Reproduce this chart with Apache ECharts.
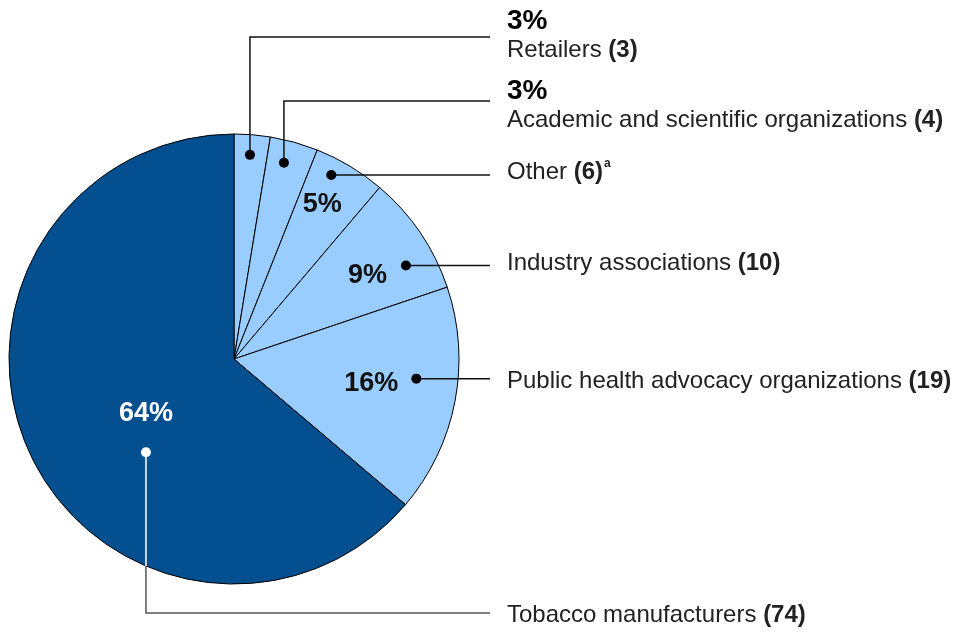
<!DOCTYPE html>
<html>
<head>
<meta charset="utf-8">
<script src="https://cdn.jsdelivr.net/npm/echarts@6/dist/echarts.min.js"></script>
<style>
  html, body { margin: 0; padding: 0; background: #fff; }
  #chart { width: 967px; height: 633px; }
</style>
</head>
<body>
<div id="chart"></div>
<script>
// data
const names = ['Retailers', 'Academic and scientific organizations', 'Other', 'Industry associations', 'Public health advocacy organizations', 'Tobacco manufacturers']
const counts = [3, 4, 6, 10, 19, 74]
const pctLabels = ['3%', '3%', '5%', '9%', '16%', '64%']
const footnotes = ['', '', 'a', '', '', '']

// annotation layout (where callouts sit inside each slice)
const dotT = [0.48, 0.4, 0.33, 0.68, 0.42, 0.405]     // fraction along slice angle
const dotR = [0.91, 0.9, 0.925, 0.87, 0.815, 0.57]     // fraction of radius
const pctT = [0, 0, 0.43, 0.57, 0.49, 0.47]
const pctR = [0, 0, 0.79, 0.7, 0.62, 0.46]
const textY = [35, 105, 172, 263, 381, 615]
const elbowY = [37, 101, null, null, null, 613]

const cx = 234
const cy = 359
const R = 225
const lineEnd = 490
const textX = 507
const light = '#99ccff'
const dark = '#044f8f'
const font = '"Liberation Sans", Arial, sans-serif'

const total = counts.reduce((a, b) => a + b, 0)
const cum = []
counts.reduce((acc, v, i) => { cum[i] = acc; return acc + v }, 0)

function polar (i, t, rf) {
  let a = (cum[i] + counts[i] * t) / total * 2 * Math.PI
  let r = R * rf
  return [cx + r * Math.sin(a), cy - r * Math.cos(a)]
}

const dots = counts.map((v, i) => polar(i, dotT[i], dotR[i]))

let chart = echarts.init(document.getElementById('chart'))

// leader lines and dots
let graphics = []
dots.forEach((d, i) => {
  let pts
  if (elbowY[i] !== null) {
    pts = [[d[0], d[1]], [d[0], elbowY[i]], [lineEnd, elbowY[i]]]
  } else {
    pts = [[d[0], d[1]], [lineEnd, d[1]]]
  }
  graphics.push({
    type: 'polyline', z: 100,
    shape: { points: pts },
    style: { stroke: i === 5 ? '#555' : '#111', lineWidth: 1.5, fill: null }
  })
})
// white part of the tobacco leader line, inside the dark slice
let tb = dots[5]
let edgeY = cy + Math.sqrt(R * R - (tb[0] - cx) * (tb[0] - cx))
graphics.push({
  type: 'line', z: 101,
  shape: { x1: tb[0], y1: tb[1], x2: tb[0], y2: edgeY },
  style: { stroke: '#ffffff', lineWidth: 1.5 }
})
dots.forEach((d, i) => {
  graphics.push({
    type: 'circle', z: 102,
    shape: { cx: d[0], cy: d[1], r: 5 },
    style: { fill: i === 5 ? '#ffffff' : '#000000' }
  })
})

chart.setOption({
  animation: false,
  color: [light, light, light, light, light, dark],
  graphic: graphics,
  series: [
    {
      type: 'pie',
      center: [cx, cy],
      radius: R,
      startAngle: 90,
      clockwise: true,
      avoidLabelOverlap: false,
      silent: true,
      itemStyle: { borderColor: '#000', borderWidth: 1 },
      label: {
        show: true,
        position: 'outside',
        color: '#222',
        fontFamily: font,
        fontSize: 24,
        formatter: function (p) {
          let i = p.dataIndex
          let s = ''
          if (i < 2) s += '{p|' + pctLabels[i] + '}\n'
          s += '{n|' + names[i] + ' }{b|(' + counts[i] + ')}'
          if (footnotes[i]) s += '{sup|' + footnotes[i] + '}'
          return s
        },
        rich: {
          p: { fontFamily: font, fontSize: 28, fontWeight: 'bold', color: '#000', lineHeight: 30 },
          n: { fontFamily: font, fontSize: 24, color: '#222', lineHeight: 28 },
          b: { fontFamily: font, fontSize: 24, fontWeight: 'bold', color: '#222', lineHeight: 28 },
          sup: { fontFamily: font, fontSize: 12, fontWeight: 'bold', color: '#222', lineHeight: 28, verticalAlign: 'top', padding: [0, 0, 0, 1] }
        }
      },
      labelLine: { show: false },
      labelLayout: function (params) {
        let i = params.dataIndex
        return {
          x: textX,
          y: textY[i],
          align: 'left',
          verticalAlign: 'middle'
        }
      },
      data: names.map((n, i) => ({ name: n, value: counts[i] }))
    },
    {
      type: 'pie',
      center: [cx, cy],
      radius: R,
      startAngle: 90,
      clockwise: true,
      avoidLabelOverlap: false,
      silent: true,
      itemStyle: { color: 'rgba(0,0,0,0)', borderWidth: 0 },
      label: {
        show: true,
        position: 'inside',
        fontFamily: font,
        fontSize: 27,
        fontWeight: 'bold',
        formatter: function (p) {
          return p.dataIndex < 2 ? '' : pctLabels[p.dataIndex]
        }
      },
      labelLine: { show: false },
      labelLayout: function (params) {
        let i = params.dataIndex
        let pt = polar(i, pctT[i], pctR[i])
        return { x: pt[0], y: pt[1], align: 'center', verticalAlign: 'middle' }
      },
      data: names.map((n, i) => ({
        name: n,
        value: counts[i],
        label: { color: i === 5 ? '#ffffff' : '#111' }
      }))
    }
  ]
})
</script>
</body>
</html>
